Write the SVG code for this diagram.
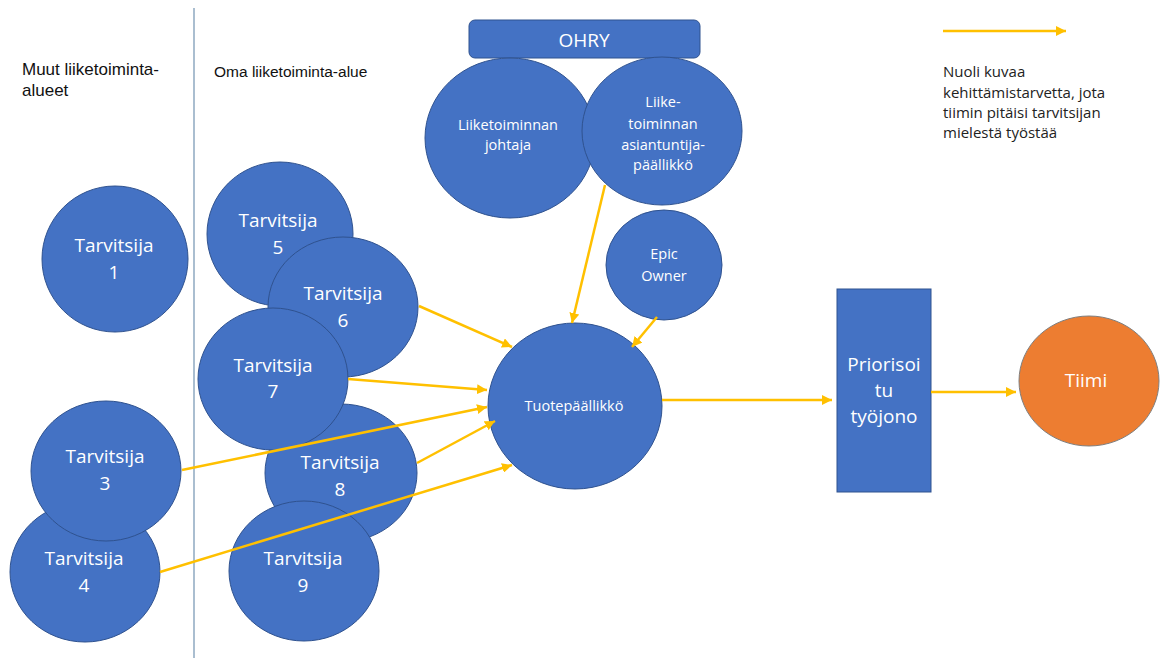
<svg xmlns="http://www.w3.org/2000/svg" width="1168" height="658" viewBox="0 0 1168 658">
<style>
.n{fill:#4472C4;stroke:#2F528F;stroke-width:1}
.o{fill:#ED7D31;stroke:#7F7F7F;stroke-width:1}
.t{font-family:"Open Sans","Liberation Sans",sans-serif;fill:#FFFFFF;text-anchor:middle}
.big{font-size:19px}
.sm{font-size:14.5px}
.lbl{font-family:"Liberation Sans",Arial,sans-serif;fill:#111111;font-size:17px}
.leg{font-family:"Open Sans","Liberation Sans",sans-serif;fill:#222222;font-size:15px}
.c{stroke:#FFC000;stroke-width:2.5;fill:none;marker-end:url(#ah)}
</style>
<defs>
<marker id="ah" markerUnits="userSpaceOnUse" markerWidth="12" markerHeight="10" refX="10" refY="5" orient="auto">
<path d="M0,0 L10,5 L0,10 Z" fill="#FFC000"/>
</marker>
</defs>
<rect width="1168" height="658" fill="#FFFFFF"/>
<line x1="194" y1="8" x2="194" y2="658" stroke="#8EA9C1" stroke-width="1.5"/>
<text class="lbl" x="22" y="75">Muut liiketoiminta-</text>
<text class="lbl" x="22" y="96">alueet</text>
<text class="lbl" x="214" y="77" style="font-size:15.5px">Oma liiketoiminta-alue</text>
<g id="legend">
<line class="c" x1="943" y1="31" x2="1066" y2="31"/>
<text class="leg" x="943" y="77">Nuoli kuvaa</text>
<text class="leg" x="943" y="98">kehittämistarvetta, jota</text>
<text class="leg" x="943" y="118">tiimin pitäisi tarvitsijan</text>
<text class="leg" x="943" y="138">mielestä työstää</text>
</g>
<g id="ohry">
<rect class="n" x="469" y="20" width="231" height="38" rx="6"/>
<text class="t big" x="584" y="47">OHRY</text>
</g>
<g id="johtaja">
<ellipse class="n" cx="510" cy="138" rx="85" ry="80"/>
<text class="t sm" x="508" y="130">Liiketoiminnan</text>
<text class="t sm" x="508" y="150">johtaja</text>
</g>
<g id="asiantuntija">
<ellipse class="n" cx="662" cy="131" rx="80" ry="74"/>
<text class="t sm" x="663" y="107">Liike-</text>
<text class="t sm" x="663" y="129">toiminnan</text>
<text class="t sm" x="663" y="150">asiantuntija-</text>
<text class="t sm" x="663" y="170">päällikkö</text>
</g>
<g id="epic">
<ellipse class="n" cx="664" cy="265" rx="58" ry="55"/>
<text class="t sm" x="664" y="259">Epic</text>
<text class="t sm" x="664" y="281">Owner</text>
</g>
<g id="tuote">
<ellipse class="n" cx="575" cy="406" rx="87" ry="83"/>
<text class="t sm" x="574" y="411">Tuotepäällikkö</text>
</g>
<g id="tyojono">
<rect class="n" x="837" y="289" width="94" height="203"/>
<text class="t big" x="884" y="371">Priorisoi</text>
<text class="t big" x="884" y="397">tu</text>
<text class="t big" x="884" y="423">työjono</text>
</g>
<g id="tiimi">
<ellipse class="o" cx="1089" cy="381" rx="70" ry="65"/>
<text class="t big" x="1086" y="387">Tiimi</text>
</g>
<g id="t1">
<ellipse class="n" cx="115" cy="259" rx="73" ry="73"/>
<text class="t big" x="114" y="252">Tarvitsija</text>
<text class="t big" x="114" y="279">1</text>
</g>
<g id="t5">
<ellipse class="n" cx="280" cy="234" rx="73" ry="72"/>
<text class="t big" x="278" y="227">Tarvitsija</text>
<text class="t big" x="278" y="254">5</text>
</g>
<g id="t6">
<ellipse class="n" cx="343" cy="307" rx="75" ry="70"/>
<text class="t big" x="343" y="300">Tarvitsija</text>
<text class="t big" x="343" y="327">6</text>
</g>
<g id="t8">
<ellipse class="n" cx="341" cy="473" rx="76" ry="69"/>
<text class="t big" x="340" y="469">Tarvitsija</text>
<text class="t big" x="340" y="496">8</text>
</g>
<g id="t7">
<ellipse class="n" cx="273" cy="379" rx="75" ry="71"/>
<text class="t big" x="273" y="372">Tarvitsija</text>
<text class="t big" x="273" y="398">7</text>
</g>
<g id="t9">
<ellipse class="n" cx="304" cy="571" rx="75" ry="70"/>
<text class="t big" x="303" y="565">Tarvitsija</text>
<text class="t big" x="303" y="592">9</text>
</g>
<g id="t4">
<ellipse class="n" cx="85" cy="572" rx="75" ry="70"/>
<text class="t big" x="84" y="565">Tarvitsija</text>
<text class="t big" x="84" y="592">4</text>
</g>
<g id="t3">
<ellipse class="n" cx="106" cy="471" rx="75" ry="70"/>
<text class="t big" x="105" y="463">Tarvitsija</text>
<text class="t big" x="105" y="490">3</text>
</g>
<g id="connectors">
<line class="c" x1="662" y1="400" x2="832" y2="400"/>
<line class="c" x1="931" y1="392" x2="1016" y2="392"/>
<line class="c" x1="605" y1="185" x2="572" y2="323"/>
<line class="c" x1="657" y1="317" x2="632" y2="347"/>
<line class="c" x1="419" y1="306" x2="512" y2="347"/>
<line class="c" x1="348" y1="379" x2="487" y2="390"/>
<line class="c" x1="182" y1="470" x2="487" y2="407"/>
<line class="c" x1="417" y1="463" x2="495" y2="421"/>
<line class="c" x1="160" y1="572" x2="512" y2="465"/>
</g>
</svg>
